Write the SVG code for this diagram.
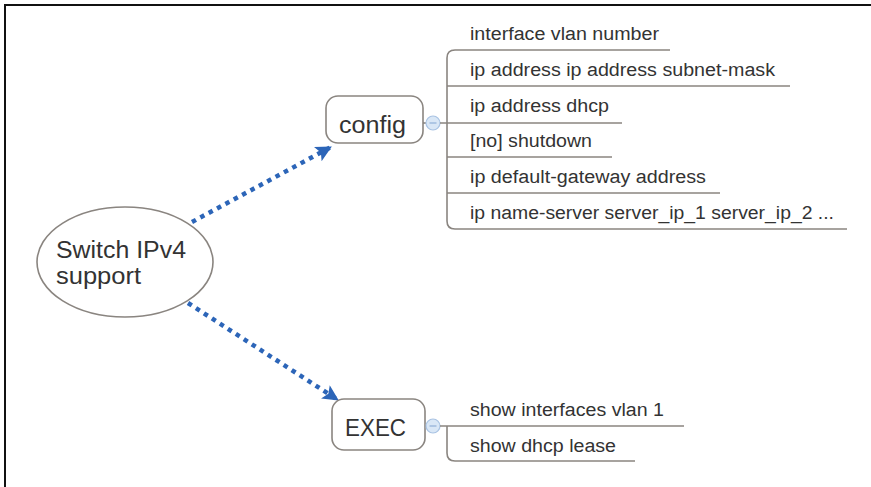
<svg xmlns="http://www.w3.org/2000/svg" width="871" height="487" viewBox="0 0 871 487">
  <defs>
    <style>
      .frame { stroke: #111; stroke-width: 2; fill: none; }
      .node { fill: #ffffff; stroke: #8a8580; stroke-width: 1.6; }
      .label { font-family: "Liberation Sans", Arial, sans-serif; fill: #333333; }
      .big { font-size: 23px; }
      .item { font-size: 18px; }
      .branch { fill: none; stroke: #8a8580; stroke-width: 1.6; }
      .toggle { fill: #d9e7f6; stroke: #a9c3e3; stroke-width: 1.2; }
      .minus { stroke: #8fb0d8; stroke-width: 1.2; }
      .conn { fill: none; stroke: #2c65b8; stroke-width: 4.5; stroke-dasharray: 4.5 5; }
    </style>
    <marker id="arrow" markerUnits="userSpaceOnUse" markerWidth="18" markerHeight="18" refX="15" refY="8" orient="auto">
      <path d="M0,0 L16,8 L0,16 L3.5,8 z" fill="#2c65b8"/>
    </marker>
  </defs>

  <rect x="0" y="0" width="871" height="487" fill="#ffffff"/>
  <path class="frame" d="M4,5 H871 M5,4 V487"/>

  <g id="connectors">
    <path class="conn" d="M192,222 L331,147" marker-end="url(#arrow)"/>
    <path class="conn" d="M188,303 L338,400" marker-end="url(#arrow)"/>
  </g>

  <g id="root">
    <ellipse class="node" cx="125" cy="262" rx="88" ry="55"/>
    <text class="label big" x="56" y="258" textLength="130" lengthAdjust="spacingAndGlyphs">Switch IPv4</text>
    <text class="label big" x="56" y="284" textLength="85" lengthAdjust="spacingAndGlyphs">support</text>
  </g>

  <g id="config">
    <rect class="node" x="326" y="96" width="97" height="47" rx="12"/>
    <text class="label big" x="339" y="133" textLength="67" lengthAdjust="spacingAndGlyphs">config</text>
    <path class="branch" d="M423,123 H426"/>
    <circle class="toggle" cx="433" cy="123" r="7"/>
    <path class="minus" d="M429.5,123 H436.5"/>
    <path class="branch" d="M670,50 H455 Q447,50 447,58 V221 Q447,229 455,229 H847 M447,86 H790 M440,123 H622 M447,157 H612 M447,193 H720"/>
  </g>

  <g id="config-items">
    <text class="label item" x="470" y="40" textLength="189" lengthAdjust="spacingAndGlyphs">interface vlan number</text>
    <text class="label item" x="470" y="76" textLength="305" lengthAdjust="spacingAndGlyphs">ip address ip address subnet-mask</text>
    <text class="label item" x="470" y="112" textLength="139" lengthAdjust="spacingAndGlyphs">ip address dhcp</text>
    <text class="label item" x="470" y="147" textLength="122" lengthAdjust="spacingAndGlyphs">[no] shutdown</text>
    <text class="label item" x="470" y="183" textLength="236" lengthAdjust="spacingAndGlyphs">ip default-gateway address</text>
    <text class="label item" x="470" y="219" textLength="364" lengthAdjust="spacingAndGlyphs">ip name-server server_ip_1 server_ip_2 ...</text>
  </g>

  <g id="exec">
    <rect class="node" x="332" y="399" width="93" height="51" rx="12"/>
    <text class="label big" x="345" y="436" textLength="61" lengthAdjust="spacingAndGlyphs">EXEC</text>
    <path class="branch" d="M425,426 H426"/>
    <circle class="toggle" cx="433" cy="426" r="7"/>
    <path class="minus" d="M429.5,426 H436.5"/>
    <path class="branch" d="M440,426 H684 M447,426 V453 Q447,461 455,461 H635"/>
  </g>

  <g id="exec-items">
    <text class="label item" x="470" y="416" textLength="194" lengthAdjust="spacingAndGlyphs">show interfaces vlan 1</text>
    <text class="label item" x="470" y="452" textLength="146" lengthAdjust="spacingAndGlyphs">show dhcp lease</text>
  </g>
</svg>
